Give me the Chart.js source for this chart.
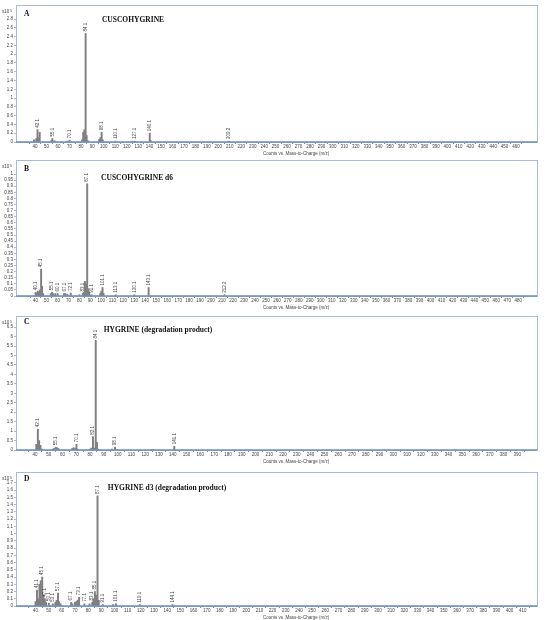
<!DOCTYPE html>
<html lang="en">
<head>
    <meta charset="UTF-8">
    <title>Mass spectra</title>
    <script src="https://cdn.jsdelivr.net/npm/chart.js"></script>
    <style>
        body { margin: 0; background: #fff; }
        #wrap { position: relative; width: 550px; height: 620px; overflow: hidden; }
        #wrap canvas { position: absolute; left: 0; }
    </style>
</head>
<body>
<div id="wrap"></div>
<script>
    // A - cuscohygrine
    const mzA  = [39, 41, 42.1, 43, 44, 54, 55.1, 57, 68, 70.1, 81, 82, 83, 84.1, 85, 86, 96, 97, 98.1, 99, 110.1, 125, 127.1, 140.1, 141, 209.2];
    const intA = [0.05, 0.08, 0.28, 0.1, 0.22, 0.03, 0.08, 0.03, 0.02, 0.04, 0.05, 0.22, 0.28, 2.47, 0.15, 0.03, 0.06, 0.1, 0.22, 0.05, 0.02, 0.02, 0.02, 0.2, 0.03, 0.02];
    const labA = ['42.1', '55.1', '70.1', '84.1', '98.1', '110.1', '127.1', '140.1', '209.2'];

    // B - cuscohygrine d6
    const mzB  = [40.1, 41, 42, 43, 44, 45.1, 46, 47, 54, 55.1, 56, 58, 60.1, 66, 67.1, 69, 72.1, 80, 83.1, 84, 85, 86, 87.1, 88, 89, 91.1, 99, 100, 101.1, 102, 113.1, 130.1, 143.1, 212.2];
    const intB = [0.03, 0.02, 0.04, 0.03, 0.05, 0.22, 0.08, 0.02, 0.02, 0.03, 0.02, 0.02, 0.02, 0.02, 0.02, 0.015, 0.025, 0.01, 0.02, 0.03, 0.12, 0.1, 0.92, 0.06, 0.03, 0.01, 0.02, 0.04, 0.07, 0.02, 0.01, 0.01, 0.07, 0.01];
    const labB = ['40.1', '45.1', '55.1', '60.1', '67.1', '72.1', '83.1', '87.1', '91.1', '101.1', '113.1', '130.1', '143.1', '212.2'];

    // C - hygrine
    const mzC  = [41, 42.1, 43, 44, 45, 53, 54, 55.1, 56, 57, 67, 68, 69, 70.1, 71, 80, 81, 82.1, 83, 84.1, 85, 86, 96, 98.1, 99, 124, 126, 141.1];
    const intC = [0.3, 1.1, 0.5, 0.25, 0.05, 0.05, 0.08, 0.15, 0.12, 0.08, 0.08, 0.12, 0.08, 0.3, 0.05, 0.05, 0.1, 0.7, 0.1, 5.8, 0.4, 0.05, 0.05, 0.15, 0.03, 0.02, 0.02, 0.2];
    const labC = ['42.1', '55.1', '70.1', '82.1', '84.1', '98.1', '141.1'];

    // D - hygrine d3
    const mzD  = [40, 41.1, 42, 43, 44, 45.1, 46, 47.1, 48, 50.1, 53.1, 55, 56, 57.1, 58, 59, 67.1, 68, 70, 71, 72, 73.1, 77.1, 81, 83.1, 84, 85.1, 86, 87.1, 88, 91.1, 99, 101.1, 119.1, 144.1];
    const intD = [0.06, 0.22, 0.1, 0.3, 0.35, 0.4, 0.15, 0.1, 0.05, 0.04, 0.03, 0.05, 0.08, 0.18, 0.06, 0.03, 0.05, 0.03, 0.05, 0.06, 0.08, 0.12, 0.03, 0.03, 0.05, 0.1, 0.2, 0.15, 1.52, 0.08, 0.02, 0.02, 0.03, 0.02, 0.02];
    const labD = ['41.1', '45.1', '47.1', '50.1', '53.1', '57.1', '67.1', '73.1', '77.1', '83.1', '85.1', '87.1', '91.1', '101.1', '119.1', '144.1'];

    function range(a, b, s) {
        const out = [];
        for (let v = a; v <= b + s / 2; v += s) out.push(+v.toFixed(2));
        return out;
    }

    const xTicksA = range(40, 460, 10), yTicksA = range(0, 2.8, 0.2);
    const xTicksB = range(40, 480, 10), yTicksB = range(0, 1, 0.05);
    const xTicksC = range(40, 390, 10), yTicksC = range(0, 6.5, 0.5);
    const xTicksD = range(40, 410, 10), yTicksD = range(0, 1.7, 0.1);

    const panels = [
        { letter: 'A', title: 'CUSCOHYGRINE', mz: mzA, int: intA, lab: labA, xt: xTicksA, yt: yTicksA,
          top: 0, h: 155, padTop: 5, axisH: 13, xMin: 28.6, xMax: 473, yMax: 3.12, titleX: 133, titleDy: 15, letterDy: 9 },
        { letter: 'B', title: 'CUSCOHYGRINE d6', mz: mzB, int: intB, lab: labB, xt: xTicksB, yt: yTicksB,
          top: 155, h: 155, padTop: 5, axisH: 14, xMin: 27.5, xMax: 491.8, yMax: 1.115, titleX: 137, titleDy: 18, letterDy: 9 },
        { letter: 'C', title: 'HYGRINE (degradation product)', mz: mzC, int: intC, lab: labC, xt: xTicksC, yt: yTicksC,
          top: 310, h: 155, padTop: 6, axisH: 15, xMin: 31.5, xMax: 399, yMax: 7.09, titleX: 158, titleDy: 14, letterDy: 6 },
        { letter: 'D', title: 'HYGRINE d3 (degradation product)', mz: mzD, int: intD, lab: labD, xt: xTicksD, yt: yTicksD,
          top: 466, h: 154, padTop: 6, axisH: 14, xMin: 30.4, xMax: 415.6, yMax: 1.85, titleX: 167, titleDy: 16, letterDy: 7 }
    ];

    const small = '4.5px "Liberation Sans", Arial, sans-serif';
    const EXTRA = 6; // room under the axis for the "Counts vs." line

    // frame, titles, multiplier and peak labels
    const decor = {
        id: 'decor',
        afterDraw(chart) {
            const p = chart.options.plugins.decor.p;
            const c = chart.ctx, a = chart.chartArea;
            const xs = chart.scales.x, ys = chart.scales.y;
            c.save();
            c.strokeStyle = '#a9bcd8';
            c.lineWidth = 1;
            c.strokeRect(a.left + 0.5, a.top + 0.5, a.right - a.left, a.bottom - a.top);
            c.strokeStyle = '#6d8bbd';
            c.lineWidth = 1.5;
            c.beginPath();
            c.moveTo(a.left, a.bottom);
            c.lineTo(a.right, a.bottom);
            c.stroke();

            c.fillStyle = '#111';
            c.font = 'bold 7.5px "Liberation Serif", serif';
            c.textBaseline = 'middle';
            c.textAlign = 'left';
            c.fillText(p.letter, a.left + 8, a.top + p.letterDy);
            c.textAlign = 'center';
            c.fillText(p.title, p.titleX, a.top + p.titleDy);

            c.fillStyle = '#444';
            c.font = small;
            c.textAlign = 'left';
            c.fillText('x10', 2, a.top + 7);
            c.font = '3.5px "Liberation Sans", Arial, sans-serif';
            c.fillText('5', 10, a.top + 6);
            c.font = small;
            c.fillText('Counts vs. Mass-to-Charge (m/z)', 263, a.bottom + 12);

            // peak labels, rotated above each peak
            p.lab.forEach(t => {
                const m = parseFloat(t);
                let best = 0, bd = 1e9;
                p.mz.forEach((v, i) => {
                    const d = Math.abs(v - m);
                    if (d < bd) { bd = d; best = i; }
                });
                const x = xs.getPixelForValue(m);
                const y = ys.getPixelForValue(p.int[best]) - 2;
                c.save();
                c.translate(x, y);
                c.rotate(-Math.PI / 2);
                c.textAlign = 'left';
                c.textBaseline = 'middle';
                c.fillText(t, 0, 0);
                c.restore();
            });
            c.restore();
        }
    };

    const wrap = document.getElementById('wrap');
    panels.forEach(p => {
        const cv = document.createElement('canvas');
        cv.width = 550;
        cv.height = p.h + EXTRA;
        cv.style.top = p.top + 'px';
        wrap.appendChild(cv);

        new Chart(cv.getContext('2d'), {
            type: 'bar',
            data: {
                datasets: [{
                    data: p.mz.map((m, i) => ({ x: m, y: p.int[i] })),
                    backgroundColor: '#808080',
                    barThickness: 1.3,
                    grouped: false
                }]
            },
            options: {
                responsive: false,
                animation: false,
                layout: { padding: { top: p.padTop, right: 13, left: 0, bottom: EXTRA } },
                plugins: {
                    legend: { display: false },
                    tooltip: { enabled: false },
                    decor: { p: p }
                },
                scales: {
                    x: {
                        type: 'linear',
                        min: p.xMin,
                        max: p.xMax,
                        afterBuildTicks: s => { s.ticks = p.xt.map(v => ({ value: v })); },
                        afterFit: s => { s.height = p.axisH; },
                        ticks: { font: { size: 4.5, family: 'Liberation Sans' }, color: '#444', padding: 0, maxRotation: 0, autoSkip: false },
                        grid: { drawOnChartArea: false, tickLength: 2, color: '#6d8bbd' },
                        border: { display: false }
                    },
                    y: {
                        min: 0,
                        max: p.yMax,
                        afterBuildTicks: s => { s.ticks = p.yt.map(v => ({ value: v })); },
                        afterFit: s => { s.width = 16; },
                        ticks: {
                            font: { size: 4.5, family: 'Liberation Sans' }, color: '#444', padding: 1, autoSkip: false,
                            callback: v => String(+v.toFixed(2))
                        },
                        grid: { drawOnChartArea: false, tickLength: 2, color: '#a9bcd8' },
                        border: { display: false }
                    }
                }
            },
            plugins: [decor]
        });
    });
</script>
</body>
</html>
